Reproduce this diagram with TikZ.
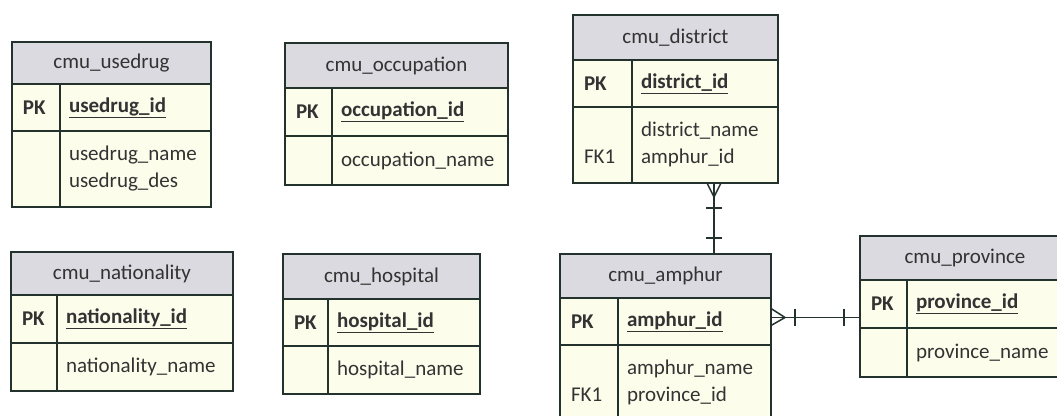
\documentclass[tikz,border=0pt]{standalone}
\usepackage{fontspec}
\setmainfont{Carlito}

\definecolor{lc}{RGB}{36,50,46}
\definecolor{hdrgray}{RGB}{218,218,224}
\definecolor{bodyyel}{RGB}{253,253,236}
\tikzset{
  hdr/.style={draw=lc, fill=hdrgray, line width=1.5pt, anchor=north west, inner sep=0pt, outer sep=0pt},
  keycell/.style={draw=lc, fill=bodyyel, line width=1.5pt, anchor=north west, inner xsep=11pt, inner ysep=0pt, outer sep=0pt, align=left},
  fieldcell/.style={draw=lc, fill=bodyyel, line width=1.5pt, anchor=north west, inner xsep=9pt, inner ysep=0pt, outer sep=0pt, align=left},
  rel/.style={draw=lc, line width=1.5pt},
}
\newcommand{\pkey}[1]{\textbf{\underline{#1}}}

\begin{document}
\begin{tikzpicture}[x=1pt,y=-1pt,every node/.style={font=\fontsize{21}{27}\selectfont,text=black!80}]
\useasboundingbox (0,0) rectangle (1057,415);
\clip (0,0) rectangle (1057,415);
% cmu_usedrug
\node[hdr, minimum width=199pt, minimum height=42pt] (usedrug) at (12,42) {cmu\_usedrug};
\node[keycell, text width=26pt, minimum height=47pt] (usedrug-pk) at (usedrug.south west) {\textbf{PK}};
\node[fieldcell, text width=133pt, minimum height=47pt] (usedrug-id) at (usedrug-pk.north east) {\pkey{usedrug\_id}};
\node[keycell, text width=26pt, minimum height=76pt] (usedrug-fk) at (usedrug-pk.south west) {};
\node[fieldcell, text width=133pt, minimum height=76pt] (usedrug-at) at (usedrug-fk.north east) {\strut usedrug\_name\\\strut usedrug\_des};
% cmu_occupation
\node[hdr, minimum width=223pt, minimum height=45pt] (occupation) at (285,43) {cmu\_occupation};
\node[keycell, text width=25pt, minimum height=48pt] (occupation-pk) at (occupation.south west) {\textbf{PK}};
\node[fieldcell, text width=158pt, minimum height=48pt] (occupation-id) at (occupation-pk.north east) {\pkey{occupation\_id}};
\node[keycell, text width=25pt, minimum height=49pt] (occupation-fk) at (occupation-pk.south west) {};
\node[fieldcell, text width=158pt, minimum height=49pt] (occupation-at) at (occupation-fk.north east) {occupation\_name};
% cmu_district
\node[hdr, minimum width=205pt, minimum height=45pt] (district) at (573,15) {cmu\_district};
\node[keycell, text width=37pt, minimum height=47pt] (district-pk) at (district.south west) {\textbf{PK}};
\node[fieldcell, text width=128pt, minimum height=47pt] (district-id) at (district-pk.north east) {\pkey{district\_id}};
\node[keycell, text width=37pt, minimum height=76pt] (district-fk) at (district-pk.south west) {\strut\\\strut FK1};
\node[fieldcell, text width=128pt, minimum height=76pt] (district-at) at (district-fk.north east) {\strut district\_name\\\strut amphur\_id};
% cmu_nationality
\node[hdr, minimum width=222pt, minimum height=43pt] (nationality) at (11,252) {cmu\_nationality};
\node[keycell, text width=24pt, minimum height=48pt] (nationality-pk) at (nationality.south west) {\textbf{PK}};
\node[fieldcell, text width=158pt, minimum height=48pt] (nationality-id) at (nationality-pk.north east) {\pkey{nationality\_id}};
\node[keycell, text width=24pt, minimum height=48pt] (nationality-fk) at (nationality-pk.south west) {};
\node[fieldcell, text width=158pt, minimum height=48pt] (nationality-at) at (nationality-fk.north east) {nationality\_name};
% cmu_hospital
\node[hdr, minimum width=197pt, minimum height=45pt] (hospital) at (283,254) {cmu\_hospital};
\node[keycell, text width=23pt, minimum height=47pt] (hospital-pk) at (hospital.south west) {\textbf{PK}};
\node[fieldcell, text width=134pt, minimum height=47pt] (hospital-id) at (hospital-pk.north east) {\pkey{hospital\_id}};
\node[keycell, text width=23pt, minimum height=48pt] (hospital-fk) at (hospital-pk.south west) {};
\node[fieldcell, text width=134pt, minimum height=48pt] (hospital-at) at (hospital-fk.north east) {hospital\_name};
% cmu_amphur
\node[hdr, minimum width=211pt, minimum height=44pt] (amphur) at (560,254) {cmu\_amphur};
\node[keycell, text width=36pt, minimum height=47pt] (amphur-pk) at (amphur.south west) {\textbf{PK}};
\node[fieldcell, text width=135pt, minimum height=47pt] (amphur-id) at (amphur-pk.north east) {\pkey{amphur\_id}};
\node[keycell, text width=36pt, minimum height=76pt] (amphur-fk) at (amphur-pk.south west) {\strut\\\strut FK1};
\node[fieldcell, text width=135pt, minimum height=76pt] (amphur-at) at (amphur-fk.north east) {\strut amphur\_name\\\strut province\_id};
% cmu_province
\node[hdr, minimum width=210pt, minimum height=44pt] (province) at (860,236) {cmu\_province};
\node[keycell, text width=25pt, minimum height=48pt] (province-pk) at (province.south west) {\textbf{PK}};
\node[fieldcell, text width=145pt, minimum height=48pt] (province-id) at (province-pk.north east) {\pkey{province\_id}};
\node[keycell, text width=25pt, minimum height=49pt] (province-fk) at (province-pk.south west) {};
\node[fieldcell, text width=145pt, minimum height=49pt] (province-at) at (province-fk.north east) {province\_name};
% district >|--|| amphur
\coordinate (da) at ([xshift=9pt]district-at.south);
\draw[rel] (da) -- (da |- amphur.north);
\draw[rel] (da) ++(-7,0) -- ++(7,14) -- ++(7,-14);
\draw[rel] (da) ++(-8,25) -- ++(16,0);
\draw[rel] (da |- amphur.north) ++(-8,-16) -- ++(16,0);
% amphur >|--|| province
\coordinate (ap) at ([yshift=4pt]amphur-id.east);
\draw[rel] (ap) -- (ap -| province-pk.west);
\draw[rel] (ap) ++(0,-9) -- ++(14,9) -- ++(-14,8);
\draw[rel] (ap) ++(24,-9) -- ++(0,17);
\draw[rel] (ap -| province-pk.west) ++(-16,-9) -- ++(0,17);
\end{tikzpicture}
\end{document}
